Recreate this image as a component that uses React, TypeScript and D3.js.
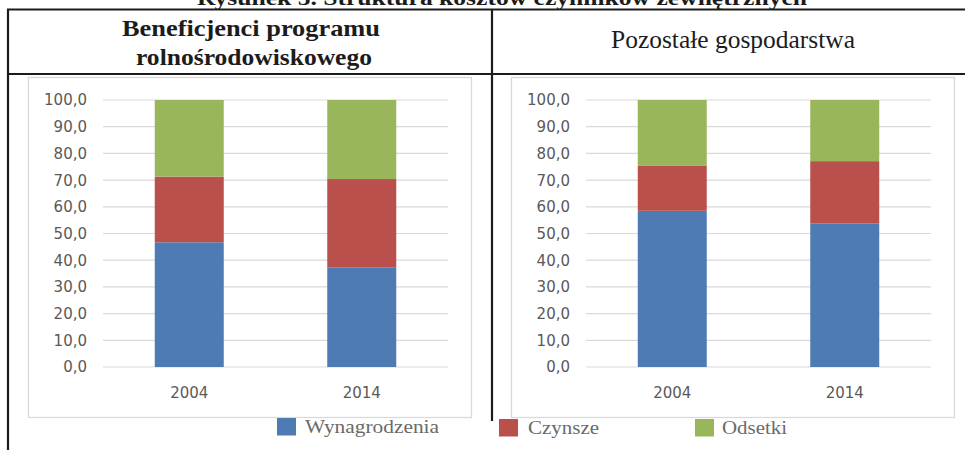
import React, { useRef, useEffect } from 'react';
import * as d3 from 'd3';

// struktura kosztow czynnikow zewnetrznych (%)
const years = ['2004', '2014'];
const seriesNames = ['Wynagrodzenia', 'Czynsze', 'Odsetki'];
const seriesColors = ['#4e7bb4', '#b9504c', '#9ab65b'];

const benefWynagrodzenia = [46.7, 37.2];
const benefCzynsze = [24.6, 33.2];
const benefOdsetki = [28.7, 29.6];

const pozWynagrodzenia = [58.5, 53.8];
const pozCzynsze = [17.0, 23.3];
const pozOdsetki = [24.5, 22.9];

const yTicks = [0, 10, 20, 30, 40, 50, 60, 70, 80, 90, 100];

const title = 'Rysunek 5. Struktura kosztów czynników zewnętrznych';

const panels = [
  { name: 'benef', values: [benefWynagrodzenia, benefCzynsze, benefOdsetki] },
  { name: 'poz', values: [pozWynagrodzenia, pozCzynsze, pozOdsetki] },
];

const App = () => {
  const svgRef = useRef<SVGSVGElement>(null);

  useEffect(() => {
    const svg = d3.select(svgRef.current);
    svg.selectAll('*').remove();

    const ink = '#1c1c1c';
    const axisFont = '"DejaVu Sans", sans-serif';
    const serif = '"Liberation Serif", "Times New Roman", serif';

    // tytul (przyciety u gory)
    svg.append('text')
      .attr('x', 197).attr('y', 5)
      .attr('textLength', 610).attr('lengthAdjust', 'spacingAndGlyphs')
      .attr('font-family', serif).attr('font-weight', 'bold').attr('font-size', 21)
      .attr('fill', ink)
      .text(title);

    // linie tabeli
    const lines = [
      [7, 9.5, 965, 9.5],
      [7, 74, 965, 74],
      [8, 9.5, 8, 450],
      [492, 9.5, 492, 421],
    ];
    svg.selectAll('.tbl')
      .data(lines)
      .enter()
      .append('line')
      .attr('x1', d => d[0]).attr('y1', d => d[1])
      .attr('x2', d => d[2]).attr('y2', d => d[3])
      .attr('stroke', ink).attr('stroke-width', 2.2);

    // naglowki
    const h1 = svg.append('text')
      .attr('font-family', serif).attr('font-weight', 'bold').attr('font-size', 23)
      .attr('fill', ink);
    h1.append('tspan').attr('x', 122).attr('y', 36)
      .attr('textLength', 258).attr('lengthAdjust', 'spacingAndGlyphs')
      .text('Beneficjenci programu');
    h1.append('tspan').attr('x', 136).attr('y', 65)
      .attr('textLength', 236).attr('lengthAdjust', 'spacingAndGlyphs')
      .text('rolnośrodowiskowego');

    svg.append('text')
      .attr('x', 611).attr('y', 48)
      .attr('textLength', 244).attr('lengthAdjust', 'spacingAndGlyphs')
      .attr('font-family', serif).attr('font-size', 24.5)
      .attr('fill', ink)
      .text('Pozostałe gospodarstwa');

    const y = d3.scaleLinear().domain([0, 100]).range([367, 100]);

    panels.forEach((panel, pi) => {
      const off = pi * 483;
      const g = svg.append('g').attr('transform', `translate(${off},0)`);

      // ramka wykresu
      g.append('rect')
        .attr('x', 28.5).attr('y', 77.5)
        .attr('width', 443).attr('height', 340)
        .attr('fill', 'white').attr('stroke', '#d9d9d9').attr('stroke-width', 1.3);

      const x = d3.scaleBand()
        .domain(years)
        .range([103, 448])
        .paddingInner(0.6)
        .paddingOuter(0.3);

      g.selectAll('.grid')
        .data(yTicks)
        .enter()
        .append('line')
        .attr('x1', 103).attr('x2', 448)
        .attr('y1', d => y(d)).attr('y2', d => y(d))
        .attr('stroke', '#d9d9d9').attr('stroke-width', 1.2);

      g.selectAll('.ylab')
        .data(yTicks)
        .enter()
        .append('text')
        .attr('x', 87).attr('y', d => y(d))
        .attr('dy', '0.36em')
        .attr('text-anchor', 'end')
        .attr('font-family', axisFont).attr('font-size', 15)
        .attr('fill', '#595959')
        .text(d => d.toFixed(1).replace('.', ','));

      const table = years.map((yr, i) => {
        const row: any = { year: yr };
        seriesNames.forEach((s, si) => { row[s] = panel.values[si][i]; });
        return row;
      });
      const stacked = d3.stack().keys(seriesNames)(table);

      stacked.forEach((layer, si) => {
        g.selectAll(`.bar-${si}`)
          .data(layer)
          .enter()
          .append('rect')
          .attr('x', (d: any) => x(d.data.year))
          .attr('width', x.bandwidth())
          .attr('y', d => y(d[1]))
          .attr('height', d => y(d[0]) - y(d[1]))
          .attr('fill', seriesColors[si]);
      });

      g.selectAll('.xlab')
        .data(years)
        .enter()
        .append('text')
        .attr('x', d => (x(d) as number) + x.bandwidth() / 2)
        .attr('y', 398)
        .attr('text-anchor', 'middle')
        .attr('font-family', axisFont).attr('font-size', 15)
        .attr('fill', '#595959')
        .text(d => d);
    });

    // legenda
    const legendPos = [
      { sx: 277, sy: 418, tx: 305, tw: 134 },
      { sx: 499, sy: 419, tx: 528, tw: 71 },
      { sx: 695, sy: 419, tx: 722, tw: 65 },
    ];
    seriesNames.forEach((s, i) => {
      const p = legendPos[i];
      svg.append('rect')
        .attr('x', p.sx).attr('y', p.sy)
        .attr('width', 19).attr('height', 17.5)
        .attr('fill', seriesColors[i]);
      svg.append('text')
        .attr('x', p.tx).attr('y', p.sy + 15)
        .attr('textLength', p.tw).attr('lengthAdjust', 'spacingAndGlyphs')
        .attr('font-family', serif).attr('font-size', 19.5)
        .attr('fill', '#6a6a6a')
        .text(s);
    });
  }, []);

  return (
    <svg
      ref={svgRef}
      width={965}
      height={450}
      style={{ position: 'absolute', left: 0, top: 0, background: 'white' }}
    />
  );
};

export default App;
